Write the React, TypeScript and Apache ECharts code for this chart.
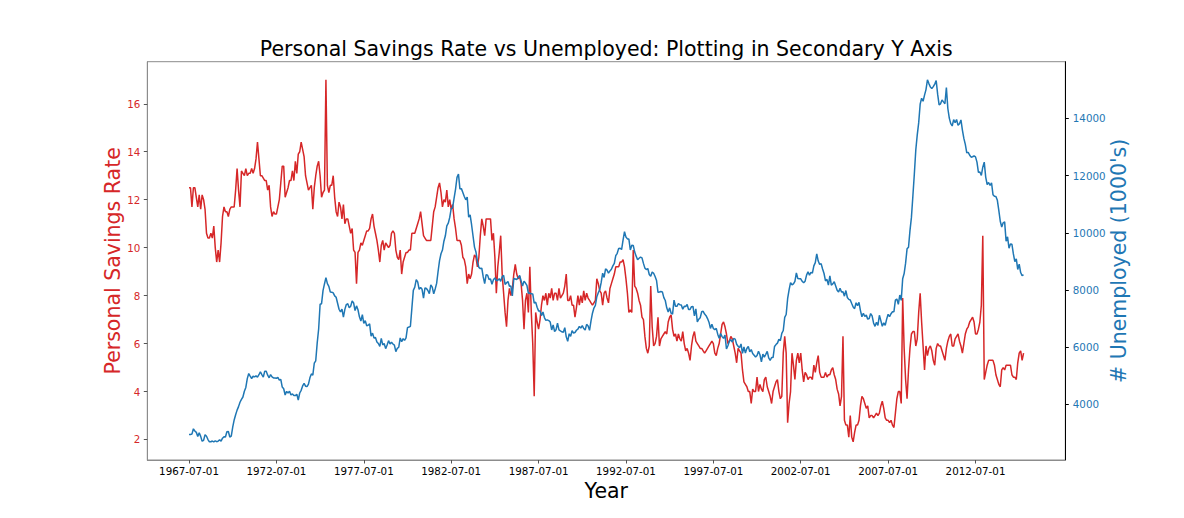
import React, { useEffect, useRef } from "react";
import * as echarts from "echarts";

// Monthly observations, 1967-07 .. 2015-04 (x = month index from 1967-07)
const X_TICK_STEP = 60;
const X_TICK_LABELS = [
  "1967-07-01", "1972-07-01", "1977-07-01", "1982-07-01", "1987-07-01",
  "1992-07-01", "1997-07-01", "2002-07-01", "2007-07-01", "2012-07-01",
];
const LEFT_TICKS = [2, 4, 6, 8, 10, 12, 14, 16];
const RIGHT_TICKS = [4000, 6000, 8000, 10000, 12000, 14000];

// Personal savings rate (%)
const SAVINGS_1967_1979 = [
  12.5, 12.5, 11.7, 12.5, 12.5, 12.1,
  11.7, 12.2, 11.6, 12.2, 12.0, 11.6, 10.6, 10.4, 10.4, 10.6, 10.4, 10.9,
  10.0, 9.4, 9.9, 9.4, 10.2, 11.3, 11.7, 11.5, 11.5, 11.3, 11.6, 11.7,
  11.7, 11.7, 12.4, 13.3, 12.4, 11.7, 13.2, 13.1, 13.0, 13.3, 13.0, 13.1,
  13.1, 13.3, 13.1, 13.3, 13.7, 14.4, 13.7, 13.0, 13.0, 12.9, 12.8, 12.8,
  12.4, 12.6, 11.7, 11.3, 11.5, 11.4, 11.4, 11.7, 12.0, 12.7, 13.4, 13.4,
  12.1, 12.3, 12.5, 12.8, 12.8, 13.2, 12.8, 13.6, 13.1, 13.9, 14.0, 14.4,
  14.1, 13.8, 13.0, 12.7, 12.4, 12.5, 12.6, 11.6, 12.5, 13.0, 13.4, 13.6,
  13.0, 12.1, 12.3, 12.4, 17.0, 12.6, 12.3, 12.6, 12.6, 13.0, 12.1, 11.5,
  11.3, 11.9, 11.7, 11.2, 11.8, 11.0, 11.2, 11.2, 10.9, 10.6, 10.8, 9.9,
  9.8, 8.5, 9.8, 9.9, 10.2, 10.1, 10.3, 10.5, 10.7, 10.7, 10.8, 11.2,
  11.4, 10.9, 10.6, 10.3, 9.9, 9.4, 10.1, 10.3, 9.9, 10.2, 10.1, 10.0,
  10.1, 10.6, 10.7, 10.6, 9.9, 9.6, 9.5, 9.9, 8.9, 9.4, 9.6, 9.8,
];
const SAVINGS_1980S = [
  9.8, 9.9, 9.9, 10.6, 10.6, 10.6, 10.8, 11.0, 11.2, 11.5, 11.0, 10.5,
  10.4, 10.3, 10.3, 10.3, 10.3, 10.9, 11.5, 11.7, 12.1, 12.5, 12.7, 12.3,
  11.7, 12.0, 11.9, 12.4, 11.7, 12.0, 11.6, 11.8, 11.2, 10.8, 10.3, 10.3,
  10.3, 10.1, 9.6, 9.5, 9.2, 8.5, 8.9, 8.7, 8.9, 9.4, 9.7, 9.6,
  9.2, 9.6, 10.5, 11.2, 10.9, 10.5, 11.2, 11.2, 11.2, 11.2, 10.3, 10.6,
  9.6, 8.1, 9.2, 9.8, 10.5, 8.9, 8.1, 7.3, 6.7, 7.8, 8.3, 8.0,
  8.3, 8.9, 9.3, 8.9, 8.7, 8.8, 8.5, 7.8, 6.6, 7.8, 8.1, 7.3,
  9.2, 7.3, 6.0, 3.8, 7.3, 6.9, 6.6, 7.0, 7.6, 8.0, 7.8, 8.1,
  7.6, 8.1, 7.9, 8.3, 7.8, 8.1, 8.1, 7.8, 8.3, 7.9, 8.0, 8.1,
  8.4, 8.9, 7.8, 7.8, 8.0, 7.6, 7.6, 7.1, 7.5, 8.0, 7.6, 8.0,
];
const SAVINGS_1990S = [
  7.7, 8.2, 7.8, 8.1, 7.9, 7.8, 7.7, 7.6, 7.7, 7.8, 8.7, 8.5,
  8.2, 8.1, 7.6, 8.1, 8.2, 7.9, 7.7, 8.3, 8.5, 8.7, 8.9, 9.2,
  9.2, 9.2, 9.4, 9.4, 9.5, 9.2, 8.7, 8.1, 7.3, 7.4, 7.3, 9.9,
  8.4, 8.3, 8.1, 7.8, 7.6, 7.1, 7.0, 6.3, 5.8, 5.6, 5.9, 8.4,
  6.7, 5.9, 6.0, 6.3, 7.1, 5.9, 6.2, 6.3, 6.4, 6.5, 6.4, 6.9,
  7.1, 7.2, 6.6, 6.3, 6.4, 6.1, 6.4, 6.2, 6.1, 6.5, 6.0, 5.7,
  5.8, 5.6, 5.3, 5.9, 6.3, 6.5, 6.1, 6.0, 5.9, 5.8, 5.8, 5.7,
  5.6, 5.7, 5.8, 5.9, 6.0, 6.1, 6.0, 5.6, 5.5, 5.8, 6.0, 6.4,
  6.8, 6.9, 6.7, 6.4, 6.0, 6.1, 6.3, 6.2, 5.9, 5.6, 5.2, 5.8,
  5.7, 5.6, 4.9, 4.4, 4.3, 4.2, 4.0, 4.0, 3.5, 4.1, 4.0, 4.0,
];
const SAVINGS_2000S = [
  4.6, 4.0, 4.3, 4.1, 4.0, 4.5, 4.6, 4.2, 4.0, 3.8, 3.5, 4.0,
  4.2, 4.4, 4.5, 4.0, 3.7, 3.8, 5.6, 6.3, 5.6, 2.7, 3.5, 4.0,
  5.6, 5.1, 4.5, 5.3, 5.6, 5.2, 5.6, 4.9, 4.4, 4.8, 4.7, 4.5,
  4.6, 4.6, 4.5, 5.1, 4.8, 5.2, 5.5, 4.8, 4.6, 4.6, 4.6, 4.8,
  4.6, 4.7, 4.7, 4.9, 5.0, 4.7, 4.5, 4.1, 3.9, 3.4, 3.8, 6.3,
  2.8, 2.6, 2.6, 2.1, 3.0, 2.1, 1.9, 2.3, 2.6, 2.6, 2.8, 3.4,
  3.8, 3.7, 3.5, 3.3, 3.4, 2.9, 3.0, 3.0, 2.9, 3.0, 3.1, 3.0,
  3.1, 3.4, 3.6, 3.3, 2.9, 2.8, 2.8, 2.7, 2.8, 2.6, 2.5, 3.1,
  3.7, 4.0, 4.0, 3.5, 7.9, 5.8, 4.5, 3.7, 4.9, 5.8, 6.4, 6.5,
  6.5, 5.9, 6.2, 7.3, 8.1, 6.9, 5.9, 4.9, 5.9, 5.5, 5.8, 5.9,
];
const SAVINGS_2010_2015 = [
  5.7, 5.3, 5.1, 5.8, 6.0, 5.9, 5.9, 5.7, 5.5, 5.3, 5.8, 6.1,
  6.3, 6.4, 5.9, 5.9, 6.2, 6.3, 6.4, 6.1, 5.9, 5.6, 6.0, 6.4,
  6.6, 6.7, 6.9, 7.0, 7.1, 6.9, 6.4, 6.4, 6.6, 6.9, 7.6, 10.5,
  4.5, 4.8, 5.1, 5.3, 5.3, 5.3, 5.3, 5.1, 4.7, 4.5, 4.3, 4.2,
  4.9, 5.0, 4.9, 5.1, 5.1, 5.1, 5.1, 4.7, 4.6, 4.6, 4.5, 5.2,
  5.6, 5.7, 5.3, 5.6,
];

// Unemployed (thousands)
const UNEMPLOYED_1967_1979 = [
  2944, 2945, 2958, 3143, 3066, 3018,
  2878, 3001, 2877, 2709, 2740, 2938, 2883, 2768, 2686, 2689, 2715, 2685,
  2718, 2692, 2712, 2758, 2713, 2816, 2868, 2856, 3040, 3049, 2856, 2884,
  3201, 3453, 3635, 3797, 3919, 4071, 4175, 4256, 4456, 4591, 4898, 5076,
  4986, 4903, 4987, 4959, 4996, 4949, 5035, 5134, 5042, 4954, 5161, 5154,
  5019, 4928, 5038, 4959, 4922, 4923, 4913, 4939, 4849, 4875, 4602, 4543,
  4326, 4452, 4394, 4459, 4329, 4363, 4305, 4305, 4350, 4144, 4396, 4489,
  4644, 4731, 4634, 4618, 4705, 4927, 5063, 5022, 5437, 5523, 6140, 6636,
  7501, 7520, 7978, 8210, 8433, 8220, 8127, 7928, 7923, 7897, 7794, 7744,
  7534, 7326, 7230, 7330, 7053, 7322, 7490, 7518, 7380, 7430, 7620, 7545,
  7280, 7443, 7307, 7059, 6911, 7134, 6829, 6925, 6751, 6763, 6815, 6386,
  6489, 6318, 6337, 6180, 6127, 6028, 6309, 6080, 6125, 5947, 6077, 6228,
  6109, 6173, 6109, 6069, 5840, 5959, 5996, 6320, 6190, 6296, 6238, 6325,
];
const UNEMPLOYED_1980S = [
  6683, 6702, 6729, 7358, 7984, 8098, 8363, 8281, 8021, 8088, 8023, 7718,
  8071, 8051, 7982, 7869, 8174, 8098, 7863, 8036, 8230, 8646, 9029, 9267,
  9397, 9705, 9895, 10244, 10335, 10538, 10849, 10881, 11217, 11529, 11938, 12051,
  11534, 11545, 11408, 11268, 11154, 11246, 10548, 10623, 10282, 9887, 9499, 9331,
  9008, 8791, 8746, 8762, 8456, 8226, 8537, 8519, 8367, 8381, 8198, 8358,
  8423, 8321, 8339, 8395, 8302, 8460, 8513, 8196, 8248, 8298, 8128, 8138,
  7795, 8402, 8383, 8364, 8439, 8508, 8319, 8135, 8310, 8243, 8159, 7883,
  7892, 7865, 7862, 7542, 7574, 7398, 7268, 7261, 7102, 7227, 7035, 6936,
  6953, 6929, 6876, 6601, 6779, 6546, 6605, 6843, 6604, 6568, 6537, 6518,
  6682, 6359, 6205, 6468, 6375, 6577, 6495, 6511, 6590, 6630, 6725, 6667,
];
const UNEMPLOYED_1990S = [
  6752, 6651, 6598, 6797, 6742, 6590, 6922, 7188, 7368, 7459, 7764, 7901,
  8015, 8265, 8586, 8439, 8736, 8692, 8586, 8666, 8722, 8842, 8931, 9198,
  9283, 9454, 9460, 9415, 9744, 10040, 9850, 9787, 9781, 9398, 9565, 9557,
  9325, 9183, 9056, 9110, 9149, 9121, 8930, 8763, 8714, 8750, 8542, 8477,
  8630, 8583, 8470, 8331, 7915, 7927, 7946, 7933, 7734, 7632, 7375, 7230,
  7375, 7187, 7153, 7645, 7430, 7427, 7527, 7484, 7478, 7328, 7426, 7423,
  7491, 7313, 7318, 7415, 7423, 7095, 7337, 6882, 6979, 7031, 7236, 7253,
  7158, 7102, 7000, 6873, 6655, 6799, 6655, 6608, 6656, 6454, 6308, 6476,
  6368, 6306, 6422, 5941, 6047, 6212, 6259, 6179, 6300, 6280, 6100, 6032,
  5976, 6111, 5783, 6004, 5796, 5951, 6025, 5838, 5915, 5778, 5716, 5653,
];
const UNEMPLOYED_2000S = [
  5708, 5858, 5733, 5481, 5758, 5651, 5747, 5853, 5625, 5534, 5639, 5634,
  6023, 6089, 6141, 6271, 6226, 6484, 6583, 7042, 7142, 7694, 8003, 8258,
  8182, 8215, 8304, 8599, 8399, 8393, 8390, 8304, 8251, 8307, 8520, 8640,
  8520, 8618, 8588, 8842, 8957, 9266, 9011, 8896, 8921, 8732, 8576, 8317,
  8370, 8167, 8491, 8170, 8212, 8286, 8136, 7990, 7927, 8061, 7932, 7934,
  7784, 7980, 7737, 7672, 7651, 7524, 7406, 7345, 7553, 7453, 7566, 7279,
  7064, 7184, 7072, 7120, 6980, 7001, 7175, 7091, 6847, 6727, 6872, 6762,
  7116, 6927, 6731, 6850, 6766, 6979, 7149, 7067, 7170, 7237, 7240, 7645,
  7685, 7497, 7822, 7637, 8395, 8575, 8937, 9438, 9494, 10074, 10538, 11286,
  12058, 12898, 13426, 13853, 14499, 14707, 14601, 14814, 15009, 15352, 15219, 15098,
];
const UNEMPLOYED_2010_2015 = [
  15046, 15113, 15202, 15325, 14849, 14474, 14512, 14648, 14579, 14516, 15081, 14348,
  14013, 13820, 13737, 13957, 13855, 13962, 13763, 13818, 13948, 13594, 13302, 13093,
  12797, 12813, 12713, 12646, 12660, 12692, 12656, 12471, 12115, 12124, 12005, 12298,
  12471, 11950, 11689, 11760, 11654, 11751, 11335, 11279, 11270, 11136, 10787, 10404,
  10202, 10349, 10380, 9702, 9859, 9460, 9608, 9599, 9262, 8990, 9090, 8717,
  8903, 8610, 8504, 8526,
];

const SAVINGS = [
  ...SAVINGS_1967_1979, ...SAVINGS_1980S, ...SAVINGS_1990S,
  ...SAVINGS_2000S, ...SAVINGS_2010_2015,
];
const UNEMPLOYED = [
  ...UNEMPLOYED_1967_1979, ...UNEMPLOYED_1980S, ...UNEMPLOYED_1990S,
  ...UNEMPLOYED_2000S, ...UNEMPLOYED_2010_2015,
];

const TITLE = "Personal Savings Rate vs Unemployed: Plotting in Secondary Y Axis";
const FONT = "DejaVu Sans";
const RED = "#d62728";
const BLUE = "#1f77b4";
const SPINE = "#8c8c8c";

// matplotlib-style 5% auto margins
function padRange(vals: number[]) {
  let lo = Infinity;
  let hi = -Infinity;
  for (const v of vals) {
    if (v < lo) lo = v;
    if (v > hi) hi = v;
  }
  const r = hi - lo;
  return { min: lo - 0.05 * r, max: hi + 0.05 * r };
}

export default function App() {
  const ref = useRef<HTMLDivElement>(null);

  useEffect(() => {
    document.body.style.margin = "0";
    const el = ref.current;
    if (!el) return;
    const chart = echarts.init(el, null, { renderer: "svg" });

    const n = SAVINGS.length;
    const xr = { min: -0.05 * (n - 1), max: 1.05 * (n - 1) };
    const yl = padRange(SAVINGS);
    const yr = padRange(UNEMPLOYED);
    const xTickPos = X_TICK_LABELS.map((_, i) => i * X_TICK_STEP);

    const nameStyle = (color: string) => ({
      fontFamily: FONT,
      fontSize: 20.5,
      color,
    });

    chart.setOption({
      animation: false,
      backgroundColor: "#ffffff",
      textStyle: { fontFamily: FONT },
      graphic: [
        {
          type: "text",
          x: 606.3,
          y: 48.9,
          style: {
            text: TITLE,
            fontFamily: FONT,
            fontSize: 20.5,
            fill: "#000",
            textAlign: "center",
            textVerticalAlign: "middle",
          },
        },
      ],
      grid: {
        left: 147.3,
        top: 61.7,
        right: 118.7,
        bottom: 58,
        show: true,
        borderColor: SPINE,
        borderWidth: 1,
        backgroundColor: "transparent",
        containLabel: false,
      },
      xAxis: {
        type: "value",
        min: xr.min,
        max: xr.max,
        name: "Year",
        nameLocation: "middle",
        nameGap: 20,
        nameMoveOverlap: false,
        nameTextStyle: nameStyle("#000"),
        splitLine: { show: false },
        axisLine: { show: true, onZero: false, lineStyle: { color: SPINE, width: 1 } },
        axisTick: {
          show: true,
          customValues: xTickPos,
          length: 3.5,
          lineStyle: { color: "#555", width: 1 },
        },
        axisLabel: {
          customValues: xTickPos,
          formatter: (v: number) => X_TICK_LABELS[Math.round(v / X_TICK_STEP)] ?? "",
          fontFamily: FONT,
          fontSize: 10.3,
          color: "#000",
          margin: 6,
        },
      },
      yAxis: [
        {
          type: "value",
          position: "left",
          min: yl.min,
          max: yl.max,
          name: "Personal Savings Rate",
          nameLocation: "middle",
          nameRotate: 90,
          nameGap: 24,
          nameMoveOverlap: false,
          nameTextStyle: nameStyle(RED),
          splitLine: { show: false },
          axisLine: { show: true, onZero: false, lineStyle: { color: SPINE, width: 1 } },
          axisTick: {
            show: true,
            customValues: LEFT_TICKS,
            length: 3.5,
            lineStyle: { color: "#555", width: 1 },
          },
          axisLabel: {
            customValues: LEFT_TICKS,
            formatter: (v: number) => String(v),
            fontFamily: FONT,
            fontSize: 10.3,
            color: RED,
            margin: 7,
          },
        },
        {
          type: "value",
          position: "right",
          min: yr.min,
          max: yr.max,
          name: "# Unemployed (1000's)",
          nameLocation: "middle",
          nameRotate: 90,
          nameGap: 43.5,
          nameMoveOverlap: false,
          nameTextStyle: nameStyle(BLUE),
          splitLine: { show: false },
          axisLine: { show: true, onZero: false, lineStyle: { color: "#000", width: 1 } },
          axisTick: {
            show: true,
            customValues: RIGHT_TICKS,
            length: 3.5,
            lineStyle: { color: "#000", width: 1 },
          },
          axisLabel: {
            customValues: RIGHT_TICKS,
            formatter: (v: number) => String(v),
            fontFamily: FONT,
            fontSize: 10.3,
            color: BLUE,
            margin: 7.5,
          },
        },
      ],
      series: [
        {
          name: "Personal Savings Rate",
          type: "line",
          yAxisIndex: 0,
          showSymbol: false,
          symbol: "none",
          data: SAVINGS.map((v, i) => [i, v]),
          lineStyle: { color: RED, width: 1.5 },
          itemStyle: { color: RED },
        },
        {
          name: "# Unemployed (1000's)",
          type: "line",
          yAxisIndex: 1,
          showSymbol: false,
          symbol: "none",
          data: UNEMPLOYED.map((v, i) => [i, v]),
          lineStyle: { color: BLUE, width: 1.5 },
          itemStyle: { color: BLUE },
        },
      ],
    });

    return () => chart.dispose();
  }, []);

  return <div ref={ref} style={{ width: 1184, height: 518 }} />;
}
